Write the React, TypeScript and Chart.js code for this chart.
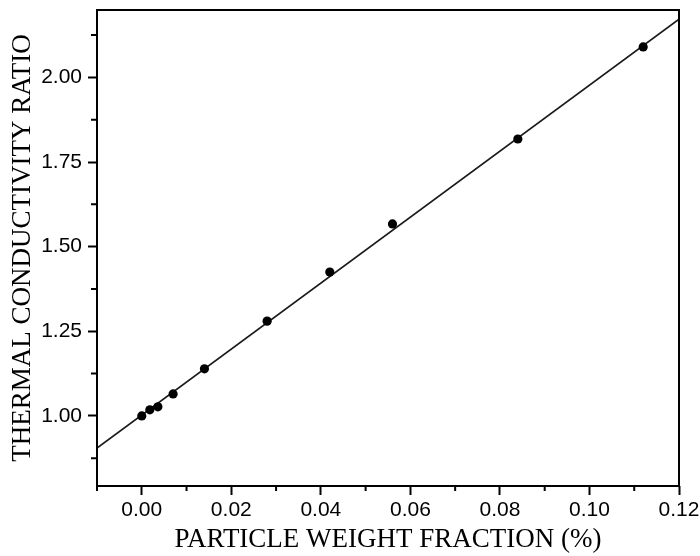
import React, { useEffect, useRef } from 'react';
import { Chart, registerables } from 'chart.js';

Chart.register(...registerables);

const weightFraction = [0, 0.0018, 0.0036, 0.007, 0.014, 0.028, 0.042, 0.056, 0.084, 0.112];
const conductivityRatio = [1.0, 1.018, 1.027, 1.065, 1.139, 1.28, 1.425, 1.567, 1.818, 2.09];
const fitX = [-0.01, 0.12];
const fitY = [0.905, 2.172];
const xMajorTicks = [0, 0.02, 0.04, 0.06, 0.08, 0.1, 0.12];
const xMinorTicks = [-0.01, 0.01, 0.03, 0.05, 0.07, 0.09, 0.11];
const yMajorTicks = [1.0, 1.25, 1.5, 1.75, 2.0];
const yMinorTicks = [0.875, 1.125, 1.375, 1.625, 1.875, 2.125];

const frameAndMinor = {
  id: 'frameAndMinor',
  afterDraw(chart: any) {
    const { ctx, chartArea, scales } = chart;
    ctx.save();
    ctx.strokeStyle = '#000';
    ctx.lineWidth = 2;
    ctx.strokeRect(chartArea.left, chartArea.top, chartArea.right - chartArea.left, chartArea.bottom - chartArea.top);
    ctx.beginPath();
    xMinorTicks.forEach((v) => {
      const x = scales.x.getPixelForValue(v);
      ctx.moveTo(x, chartArea.bottom);
      ctx.lineTo(x, chartArea.bottom + 5);
    });
    yMinorTicks.forEach((v) => {
      const y = scales.y.getPixelForValue(v);
      ctx.moveTo(chartArea.left, y);
      ctx.lineTo(chartArea.left - 6, y);
    });
    ctx.stroke();
    ctx.restore();
  },
};

export default function App() {
  const ref = useRef<HTMLCanvasElement | null>(null);
  useEffect(() => {
    document.body.style.margin = '0';
    const canvas = ref.current;
    if (!canvas) return;
    const chart = new Chart(canvas, {
      type: 'scatter',
      data: {
        datasets: [
          {
            type: 'scatter',
            data: weightFraction.map((x, i) => ({ x, y: conductivityRatio[i] })),
            pointRadius: 4.6,
            pointBackgroundColor: '#000',
            pointBorderWidth: 0,
            borderWidth: 0,
            order: 0,
          } as any,
          {
            type: 'line',
            data: fitX.map((x, i) => ({ x, y: fitY[i] })),
            borderColor: '#1a1a1a',
            borderWidth: 1.6,
            pointRadius: 0,
            fill: false,
            showLine: true,
            order: 1,
          } as any,
        ],
      },
      options: {
        animation: false,
        responsive: false,
        devicePixelRatio: 1,
        layout: { padding: { top: 10, right: 21, left: 0, bottom: 0 } },
        plugins: { legend: { display: false }, tooltip: { enabled: false } },
        scales: {
          x: {
            type: 'linear',
            min: -0.01,
            max: 0.12,
            afterBuildTicks: (axis: any) => {
              axis.ticks = xMajorTicks.map((v) => ({ value: v }));
            },
            afterFit: (scale: any) => {
              scale.height = 70;
              scale.paddingLeft = 0;
              scale.paddingRight = 0;
            },
            grid: { display: true, drawOnChartArea: false, drawTicks: true, tickLength: 9, tickWidth: 2, tickColor: '#000' },
            border: { display: false },
            ticks: {
              callback: (v: any) => Number(v).toFixed(2),
              font: { family: 'Liberation Sans', size: 21 },
              color: '#000',
              padding: 3,
              maxRotation: 0,
              autoSkip: false,
            },
            title: {
              display: true,
              text: 'PARTICLE WEIGHT FRACTION (%)',
              font: { family: 'Liberation Serif', size: 27 },
              color: '#000',
              padding: { top: 0, bottom: 0 },
            },
          },
          y: {
            type: 'linear',
            min: 0.793,
            max: 2.199,
            afterBuildTicks: (axis: any) => {
              axis.ticks = yMajorTicks.map((v) => ({ value: v }));
            },
            afterFit: (scale: any) => {
              scale.width = 97;
              scale.paddingTop = 0;
              scale.paddingBottom = 0;
            },
            grid: { display: true, drawOnChartArea: false, drawTicks: true, tickLength: 9, tickWidth: 2, tickColor: '#000' },
            border: { display: false },
            ticks: {
              callback: (v: any) => Number(v).toFixed(2),
              font: { family: 'Liberation Sans', size: 21 },
              color: '#000',
              padding: 6,
              autoSkip: false,
            },
            title: {
              display: true,
              text: 'THERMAL CONDUCTIVITY RATIO',
              font: { family: 'Liberation Serif', size: 27 },
              color: '#000',
              padding: { top: 7, bottom: 0 },
            },
          },
        },
      },
      plugins: [frameAndMinor],
    });
    return () => chart.destroy();
  }, []);
  return <canvas ref={ref} width={700} height={556} />;
}
